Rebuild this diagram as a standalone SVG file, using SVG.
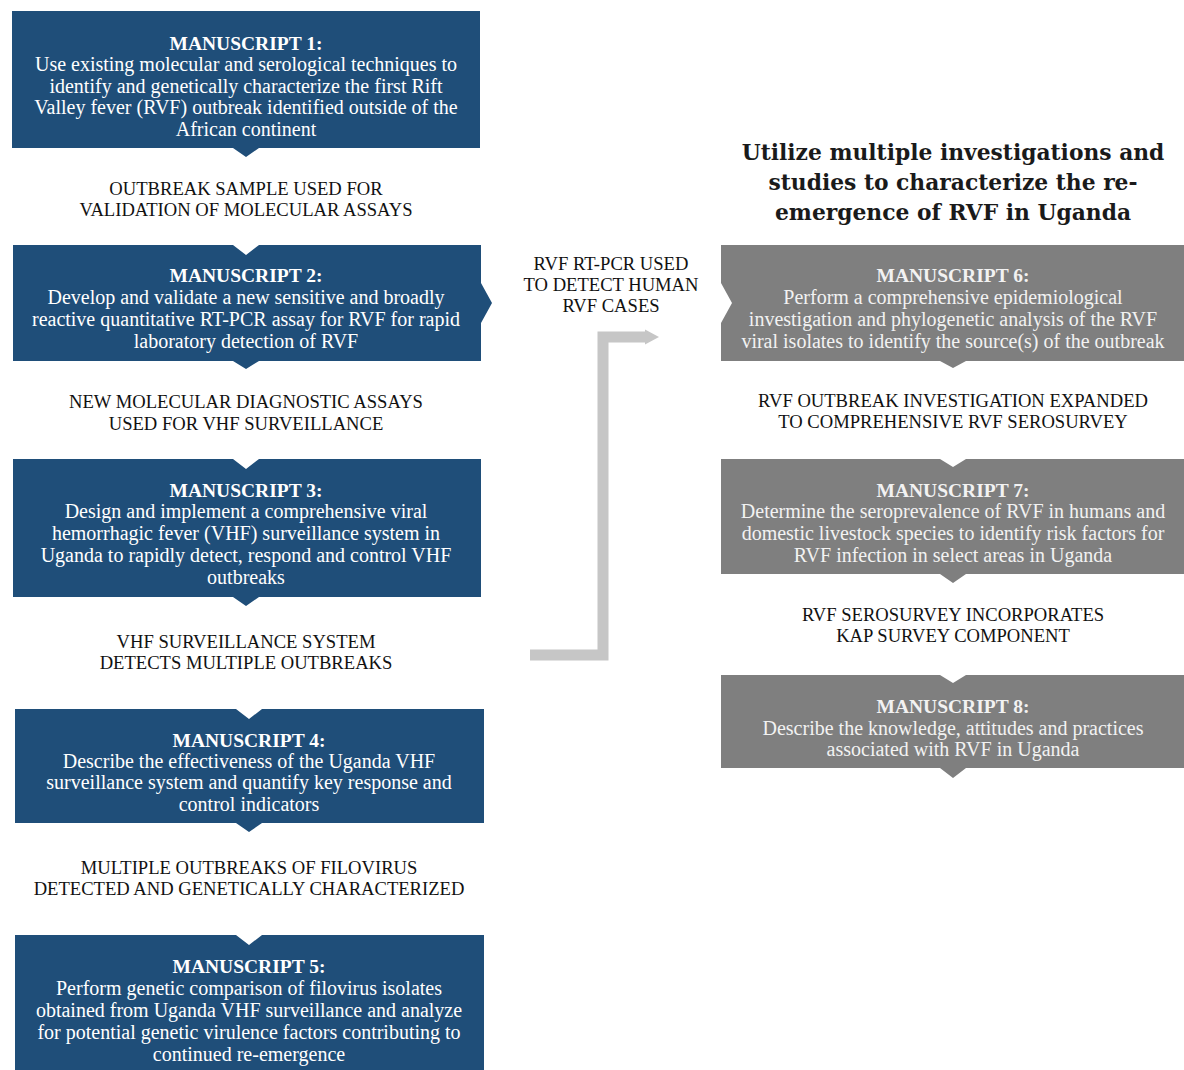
<svg xmlns="http://www.w3.org/2000/svg" width="1184" height="1070" viewBox="0 0 1184 1070">
<style>
  .blue { fill: #1f4e79; }
  .gray { fill: #7f7f7f; }
  .hd { font-family: "Liberation Serif", serif; font-weight: bold; font-size: 19.5px; text-anchor: middle; fill: #ffffff; }
  .bd { font-family: "Liberation Serif", serif; font-size: 20px; text-anchor: middle; fill: #ffffff; }
  .gh { fill: #f2f2f2; }
  .lb { font-family: "Liberation Serif", serif; font-size: 18.6px; text-anchor: middle; fill: #111111; }
  .tt { font-family: "DejaVu Serif", serif; font-weight: bold; font-size: 21.8px; text-anchor: middle; fill: #1a1a1a; }
</style>
<defs>
  <marker id="ah" markerUnits="userSpaceOnUse" markerWidth="16" markerHeight="20" refX="1" refY="10" orient="auto">
    <polygon points="0,2.5 14,10 0,17.5" fill="#c6c6c6"/>
  </marker>
</defs>
<rect width="1184" height="1070" fill="#ffffff"/>

<g id="connectors">
  <path d="M530,655 H603 V337 H646" fill="none" stroke="#c6c6c6" stroke-width="11" marker-end="url(#ah)"/>
</g>

<g id="m1">
  <path class="blue" d="M12,11 H480 V148 H259 L246,157 L233,148 H12 Z"/>
  <text class="hd" x="246" y="50">MANUSCRIPT 1:</text>
  <text class="bd" x="246" y="71">Use existing molecular and serological techniques to</text>
  <text class="bd" x="246" y="93">identify and genetically characterize the first Rift</text>
  <text class="bd" x="246" y="114">Valley fever (RVF) outbreak identified outside of the</text>
  <text class="bd" x="246" y="136">African continent</text>
</g>
<g id="l1">
  <text class="lb" x="246" y="195">OUTBREAK SAMPLE USED FOR</text>
  <text class="lb" x="246" y="216">VALIDATION OF MOLECULAR ASSAYS</text>
</g>

<g id="m2">
  <path class="blue" d="M13,245 H233 L246,255 L259,245 H481 V283 L492,303 L481,323 V361 H259 L246,369 L233,361 H13 Z"/>
  <text class="hd" x="246" y="282">MANUSCRIPT 2:</text>
  <text class="bd" x="246" y="304">Develop and validate a new sensitive and broadly</text>
  <text class="bd" x="246" y="326">reactive quantitative RT-PCR assay for RVF for rapid</text>
  <text class="bd" x="246" y="348">laboratory detection of RVF</text>
</g>
<g id="l2">
  <text class="lb" x="246" y="408">NEW MOLECULAR DIAGNOSTIC ASSAYS</text>
  <text class="lb" x="246" y="430">USED FOR  VHF SURVEILLANCE</text>
</g>

<g id="m3">
  <path class="blue" d="M13,459 H233 L246,469 L259,459 H481 V597 H259 L246,606 L233,597 H13 Z"/>
  <text class="hd" x="246" y="497">MANUSCRIPT 3:</text>
  <text class="bd" x="246" y="518">Design and implement a comprehensive viral</text>
  <text class="bd" x="246" y="540">hemorrhagic fever (VHF) surveillance system in</text>
  <text class="bd" x="246" y="562">Uganda to rapidly detect, respond and control VHF</text>
  <text class="bd" x="246" y="584">outbreaks</text>
</g>
<g id="l3">
  <text class="lb" x="246" y="648">VHF SURVEILLANCE SYSTEM</text>
  <text class="lb" x="246" y="669">DETECTS MULTIPLE OUTBREAKS</text>
</g>

<g id="m4">
  <path class="blue" d="M15,709 H236 L249,719 L262,709 H484 V823 H262 L249,832 L236,823 H15 Z"/>
  <text class="hd" x="249" y="747">MANUSCRIPT 4:</text>
  <text class="bd" x="249" y="768">Describe the effectiveness of the Uganda VHF</text>
  <text class="bd" x="249" y="789">surveillance system and quantify key response and</text>
  <text class="bd" x="249" y="811">control indicators</text>
</g>
<g id="l4">
  <text class="lb" x="249" y="874">MULTIPLE  OUTBREAKS OF FILOVIRUS</text>
  <text class="lb" x="249" y="895">DETECTED AND GENETICALLY CHARACTERIZED</text>
</g>

<g id="m5">
  <path class="blue" d="M15,935 H236 L249,945 L262,935 H484 V1070 H15 Z"/>
  <text class="hd" x="249" y="973">MANUSCRIPT 5:</text>
  <text class="bd" x="249" y="995">Perform genetic comparison of filovirus isolates</text>
  <text class="bd" x="249" y="1017">obtained from Uganda VHF surveillance and analyze</text>
  <text class="bd" x="249" y="1039">for potential genetic virulence factors contributing to</text>
  <text class="bd" x="249" y="1061">continued re-emergence</text>
</g>

<g id="lmid">
  <text class="lb" x="611" y="270">RVF RT-PCR USED</text>
  <text class="lb" x="611" y="291">TO DETECT HUMAN</text>
  <text class="lb" x="611" y="312">RVF CASES</text>
</g>

<g id="title">
  <text class="tt" x="953" y="160">Utilize multiple investigations and</text>
  <text class="tt" x="953" y="190">studies to characterize the re-</text>
  <text class="tt" x="953" y="220">emergence of RVF in Uganda</text>
</g>

<g id="m6">
  <path class="gray" d="M721,245 H1184 V361 H966 L953,368 L940,361 H721 V323 L732,303 L721,283 Z"/>
  <text class="hd gh" x="953" y="282">MANUSCRIPT 6:</text>
  <text class="bd gh" x="953" y="304">Perform a comprehensive epidemiological</text>
  <text class="bd gh" x="953" y="326">investigation and phylogenetic analysis of the RVF</text>
  <text class="bd gh" x="953" y="348">viral isolates to identify the source(s) of the outbreak</text>
</g>
<g id="l6">
  <text class="lb" x="953" y="407">RVF OUTBREAK INVESTIGATION EXPANDED</text>
  <text class="lb" x="953" y="428">TO COMPREHENSIVE RVF SEROSURVEY</text>
</g>

<g id="m7">
  <path class="gray" d="M721,459 H940 L953,467 L966,459 H1184 V574 H966 L953,583 L940,574 H721 Z"/>
  <text class="hd gh" x="953" y="497">MANUSCRIPT 7:</text>
  <text class="bd gh" x="953" y="518">Determine the seroprevalence of RVF in humans and</text>
  <text class="bd gh" x="953" y="540">domestic livestock species to identify risk factors for</text>
  <text class="bd gh" x="953" y="562">RVF infection in select areas in Uganda</text>
</g>
<g id="l7">
  <text class="lb" x="953" y="621">RVF SEROSURVEY INCORPORATES</text>
  <text class="lb" x="953" y="642">KAP SURVEY COMPONENT</text>
</g>

<g id="m8">
  <path class="gray" d="M721,675 H940 L953,683 L966,675 H1184 V768 H966 L953,778 L940,768 H721 Z"/>
  <text class="hd gh" x="953" y="713">MANUSCRIPT 8:</text>
  <text class="bd gh" x="953" y="735">Describe the knowledge, attitudes and practices</text>
  <text class="bd gh" x="953" y="756">associated with RVF in Uganda</text>
</g>
</svg>
